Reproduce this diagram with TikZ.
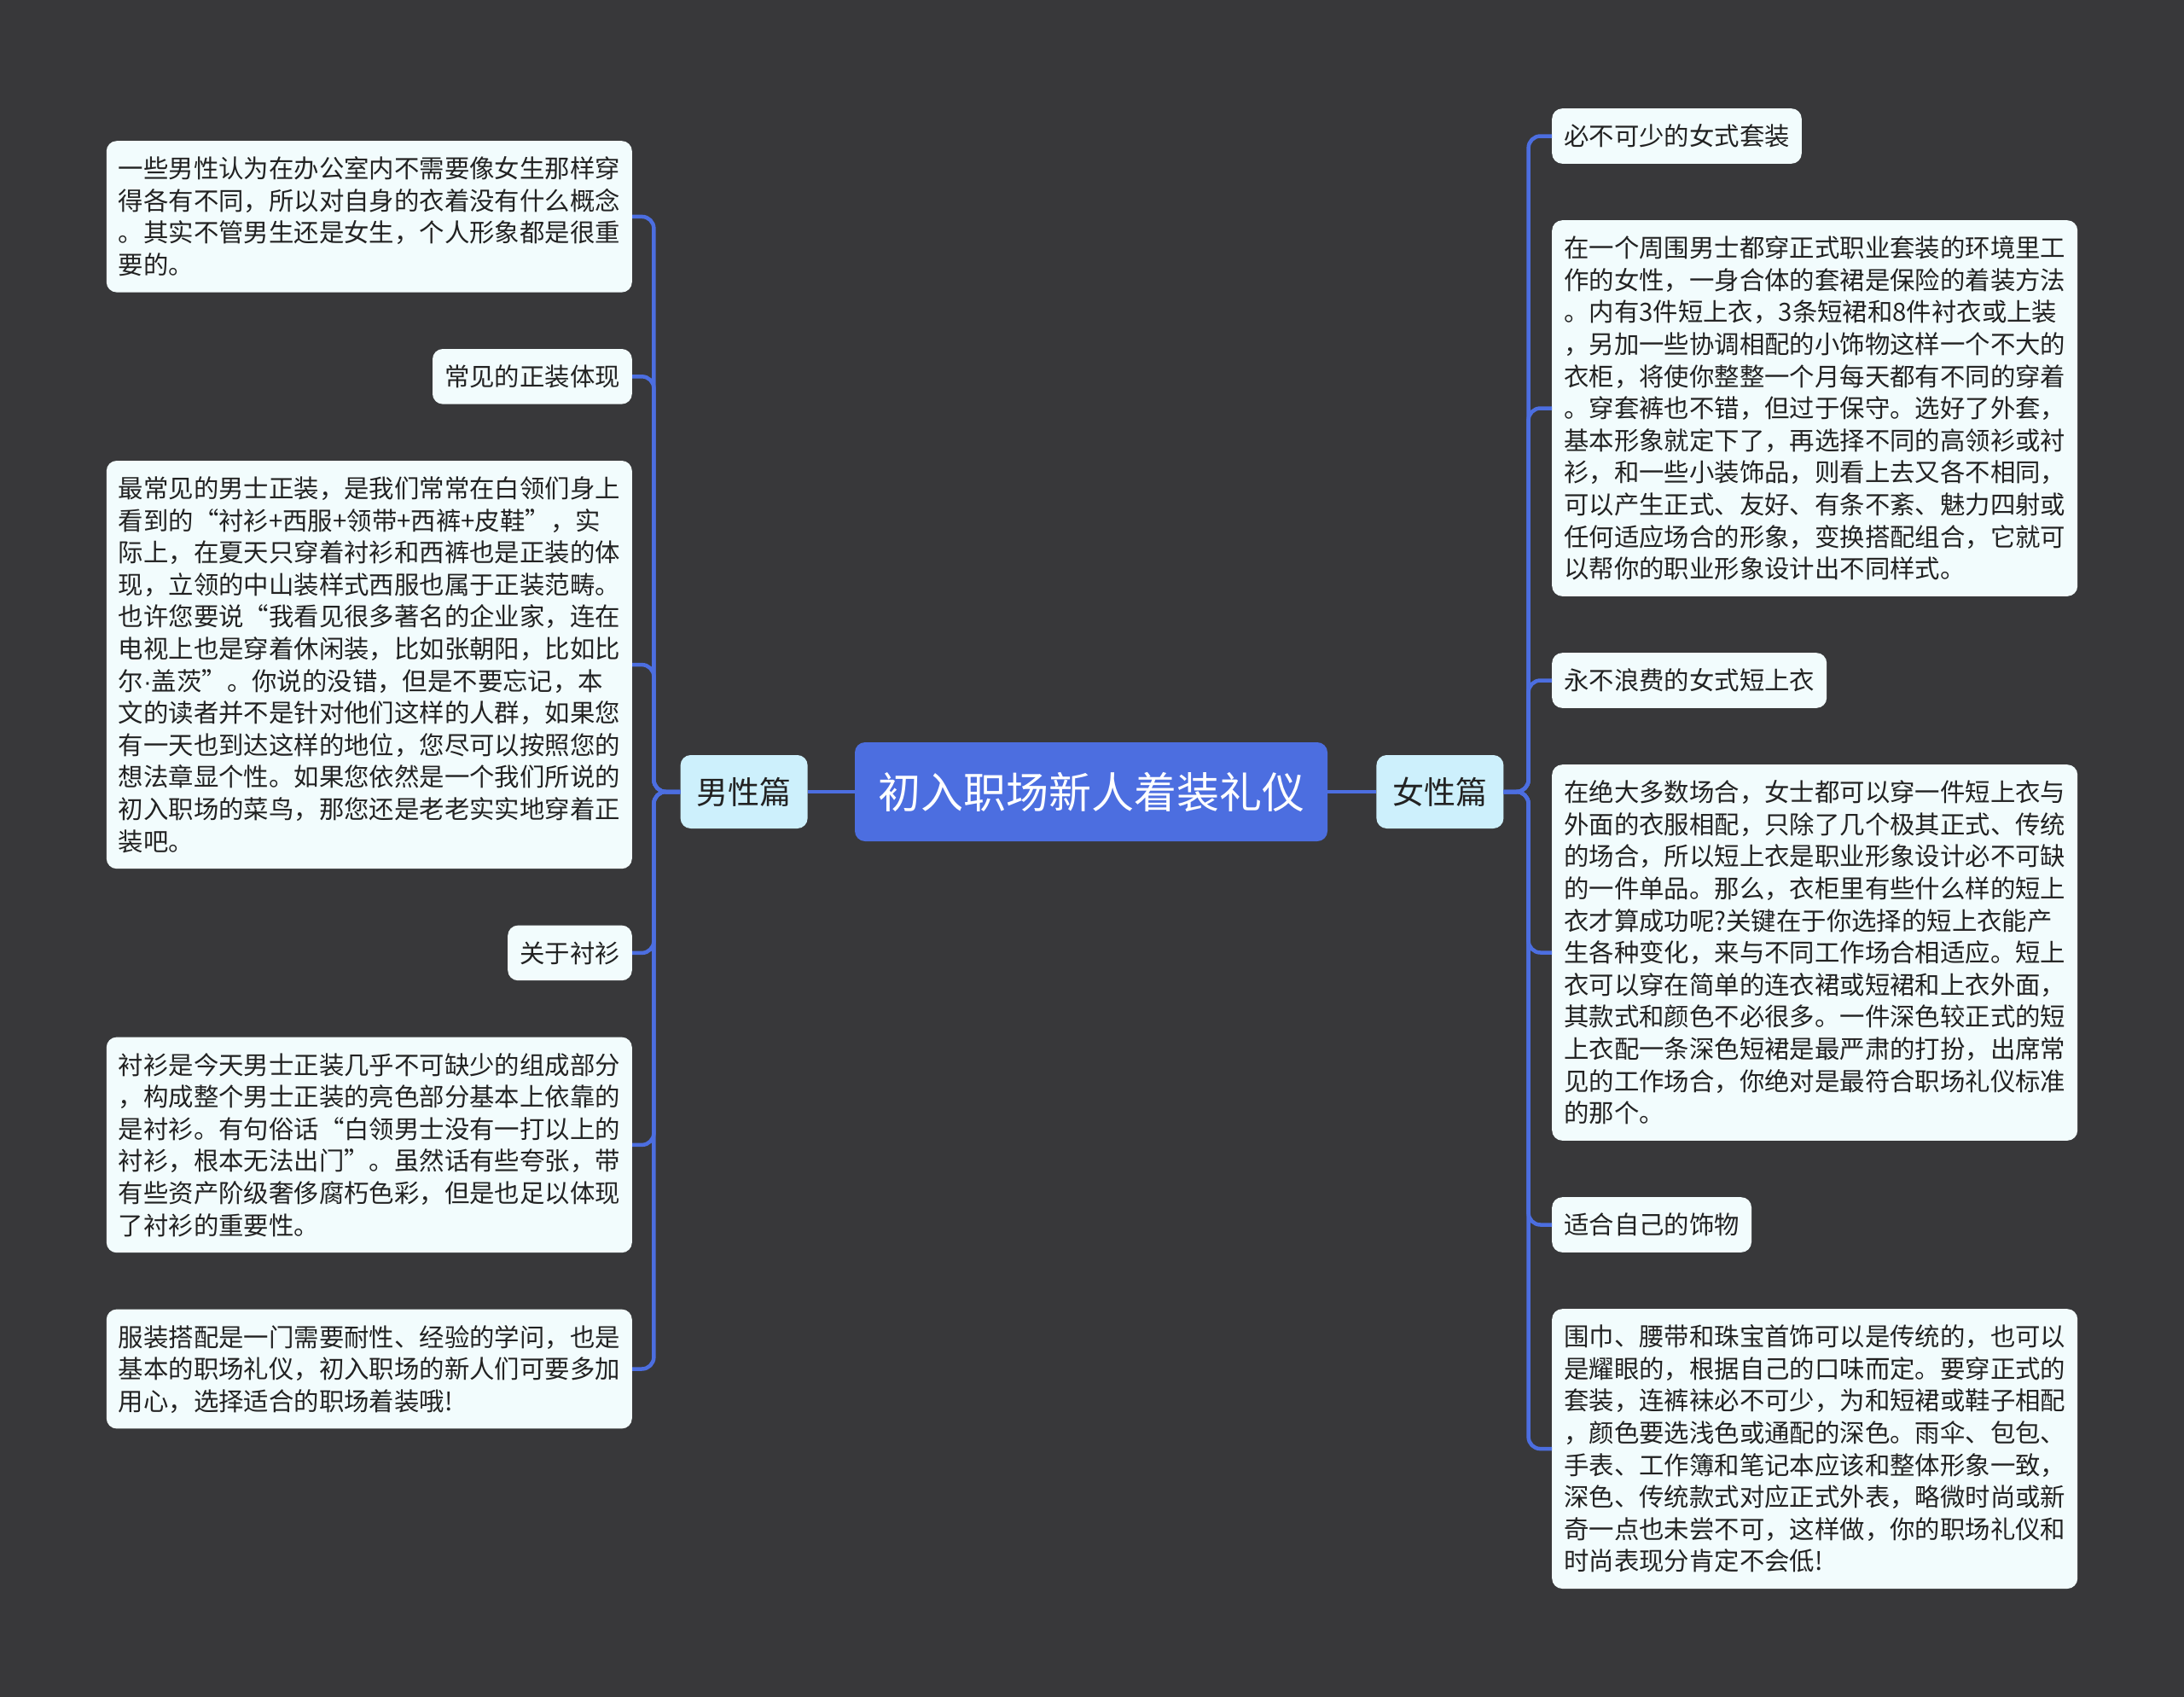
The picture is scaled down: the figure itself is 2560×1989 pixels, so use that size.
\documentclass[tikz,border=0pt]{standalone}
\usepackage{fontspec}
\setmainfont{Noto Sans CJK SC}
\newfontfamily\latinfont{Liberation Sans}
\usepackage{xcolor}
\usepackage{tikz}
\usetikzlibrary{positioning}
\definecolor{bgGray}{RGB}{56,56,58}
\definecolor{rootBlue}{RGB}{76,110,224}
\definecolor{branchCyan}{RGB}{205,240,252}
\definecolor{leafWhite}{RGB}{242,252,253}
\definecolor{linkBlue}{RGB}{76,110,224}
\definecolor{textDark}{RGB}{34,34,34}
\newcommand\leaffont{\fontsize{29.4}{37.6}\selectfont}
\newcommand\leafstrut{\rule[-0.2\baselineskip]{0pt}{\baselineskip}}

\begin{document}
\begin{tikzpicture}[
    x=1pt, y=-1pt,
    node distance=66pt,
    root/.style={rectangle, fill=rootBlue, text=white, rounded corners=12pt, minimum width=554pt, minimum height=116pt, font=\fontsize{50}{60}\selectfont},
    branch/.style={rectangle, fill=branchCyan, text=textDark, rounded corners=12pt, minimum width=149pt, minimum height=86pt, font=\fontsize{37}{44}\selectfont},
    tag/.style={rectangle, fill=leafWhite, text=textDark, rounded corners=12pt, inner xsep=14pt, inner ysep=13.5pt, font=\leaffont, execute at begin node=\leafstrut, execute at end node=\leafstrut},
    para/.style={tag, text width=588pt, align=left},
    link/.style={draw=linkBlue, line width=4.5pt, rounded corners=14pt}
]

% Background and page size
\fill[bgGray] (0,0) rectangle (2560,1989);
\useasboundingbox (0,0) rectangle (2560,1989);

% Root and main branches
\node[root] (root) at (1279,928) {初入职场新人着装礼仪};
\node[branch, left=55pt of root] (male) {男性篇};
\node[branch, right=57pt of root] (female) {女性篇};

% Left side: men
\node[para, anchor=north east] (mIntro) at (741,165) {一些男性认为在办公室内不需要像女生那样穿\\
得各有不同，所以对自身的衣着没有什么概念\\
。其实不管男生还是女生，个人形象都是很重\\
要的。};
\node[tag, below left=66pt and 0pt of mIntro.south east] (mFormal) {常见的正装体现};
\node[para, below left=66pt and 0pt of mFormal.south east] (mFormalText) {最常见的男士正装，是我们常常在白领们身上\\
看到的“衬衫+西服+领带+西裤+皮鞋”，实\\
际上，在夏天只穿着衬衫和西裤也是正装的体\\
现，立领的中山装样式西服也属于正装范畴。\\
也许您要说“我看见很多著名的企业家，连在\\
电视上也是穿着休闲装，比如张朝阳，比如比\\
尔{\latinfont ·}盖茨”。你说的没错，但是不要忘记，本\\
文的读者并不是针对他们这样的人群，如果您\\
有一天也到达这样的地位，您尽可以按照您的\\
想法章显个性。如果您依然是一个我们所说的\\
初入职场的菜鸟，那您还是老老实实地穿着正\\
装吧。};
\node[tag, below left=66pt and 0pt of mFormalText.south east] (mShirt) {关于衬衫};
\node[para, below left=66pt and 0pt of mShirt.south east] (mShirtText) {衬衫是今天男士正装几乎不可缺少的组成部分\\
，构成整个男士正装的亮色部分基本上依靠的\\
是衬衫。有句俗话“白领男士没有一打以上的\\
衬衫，根本无法出门”。虽然话有些夸张，带\\
有些资产阶级奢侈腐朽色彩，但是也足以体现\\
了衬衫的重要性。};
\node[para, below left=66pt and 0pt of mShirtText.south east] (mSum) {服装搭配是一门需要耐性、经验的学问，也是\\
基本的职场礼仪，初入职场的新人们可要多加\\
用心，选择适合的职场着装哦!};

% Right side: women
\node[tag, anchor=north west] (fSuit) at (1819,127) {必不可少的女式套装};
\node[para, below right=66pt and 0pt of fSuit.south west] (fSuitText) {在一个周围男士都穿正式职业套装的环境里工\\
作的女性，一身合体的套裙是保险的着装方法\\
。内有3件短上衣，3条短裙和8件衬衣或上装\\
，另加一些协调相配的小饰物这样一个不大的\\
衣柜，将使你整整一个月每天都有不同的穿着\\
。穿套裤也不错，但过于保守。选好了外套，\\
基本形象就定下了，再选择不同的高领衫或衬\\
衫，和一些小装饰品，则看上去又各不相同，\\
可以产生正式、友好、有条不紊、魅力四射或\\
任何适应场合的形象，变换搭配组合，它就可\\
以帮你的职业形象设计出不同样式。};
\node[tag, below right=66pt and 0pt of fSuitText.south west] (fJacket) {永不浪费的女式短上衣};
\node[para, below right=66pt and 0pt of fJacket.south west] (fJacketText) {在绝大多数场合，女士都可以穿一件短上衣与\\
外面的衣服相配，只除了几个极其正式、传统\\
的场合，所以短上衣是职业形象设计必不可缺\\
的一件单品。那么，衣柜里有些什么样的短上\\
衣才算成功呢?关键在于你选择的短上衣能产\\
生各种变化，来与不同工作场合相适应。短上\\
衣可以穿在简单的连衣裙或短裙和上衣外面，\\
其款式和颜色不必很多。一件深色较正式的短\\
上衣配一条深色短裙是最严肃的打扮，出席常\\
见的工作场合，你绝对是最符合职场礼仪标准\\
的那个。};
\node[tag, below right=66pt and 0pt of fJacketText.south west] (fAcc) {适合自己的饰物};
\node[para, below right=66pt and 0pt of fAcc.south west] (fAccText) {围巾、腰带和珠宝首饰可以是传统的，也可以\\
是耀眼的，根据自己的口味而定。要穿正式的\\
套装，连裤袜必不可少，为和短裙或鞋子相配\\
，颜色要选浅色或通配的深色。雨伞、包包、\\
手表、工作簿和笔记本应该和整体形象一致，\\
深色、传统款式对应正式外表，略微时尚或新\\
奇一点也未尝不可，这样做，你的职场礼仪和\\
时尚表现分肯定不会低!};

% Connectors
\draw[link] (root) -- (male);
\draw[link] (root) -- (female);

\draw[link] (male.west) -- ++(-31,0) |- (mIntro.east);
\draw[link] (male.west) -- ++(-31,0) |- (mFormal.east);
\draw[link] (male.west) -- ++(-31,0) |- (mFormalText.east);
\draw[link] (male.west) -- ++(-31,0) |- (mShirt.east);
\draw[link] (male.west) -- ++(-31,0) |- (mShirtText.east);
\draw[link] (male.west) -- ++(-31,0) |- (mSum.east);

\draw[link] (female.east) -- ++(29,0) |- (fSuit.west);
\draw[link] (female.east) -- ++(29,0) |- (fSuitText.west);
\draw[link] (female.east) -- ++(29,0) |- (fJacket.west);
\draw[link] (female.east) -- ++(29,0) |- (fJacketText.west);
\draw[link] (female.east) -- ++(29,0) |- (fAcc.west);
\draw[link] (female.east) -- ++(29,0) |- (fAccText.west);

\end{tikzpicture}
\end{document}
